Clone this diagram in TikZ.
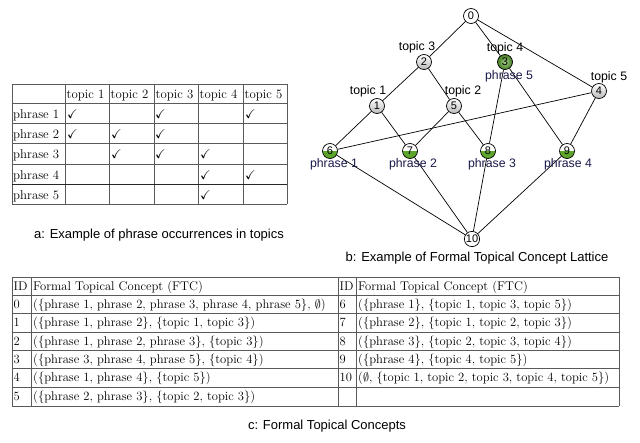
\documentclass[tikz,border=0pt]{standalone}
\usepackage{fontspec}
\usepackage{amssymb}
\newfontfamily\labfont{Liberation Sans}
\definecolor{lgreen}{RGB}{92,166,44}
\definecolor{phr}{RGB}{25,25,75}
\definecolor{tl}{RGB}{90,90,90}
\tikzset{
  tline/.style={draw=tl, line width=0.8pt},
  cella/.style={anchor=base west, inner sep=0pt, font=\fontsize{12.8}{15}\selectfont},
  cellc/.style={anchor=base west, inner sep=0pt, font=\fontsize{12.6}{15}\selectfont},
  chk/.style={anchor=base west, inner sep=0pt, font=\fontsize{12.8}{15}\selectfont},
  lnode/.style={circle, draw=black, line width=0.7pt, minimum size=15pt, inner sep=0.3pt, font=\labfont\fontsize{11}{12}\selectfont},
  wn/.style={lnode, fill=white},
  gn/.style={lnode, top color=white, bottom color=gray!55},
  grn/.style={lnode, shading=radial, inner color=lgreen!55!white, outer color=lgreen!75!black},
  hn/.style={lnode, fill=white, path picture={\fill[lgreen] (path picture bounding box.west) rectangle (path picture bounding box.south east);}},
  tlab/.style={inner sep=0pt, font=\labfont\fontsize{12.3}{14}\selectfont, text=black},
  plab/.style={inner sep=0pt, font=\labfont\fontsize{12.3}{14}\selectfont, text=phr},
  captxt/.style={inner sep=0pt, font=\labfont\fontsize{13}{15}\selectfont, text=black},
  lnk/.style={draw=black, line width=0.7pt}
}
\begin{document}
\begin{tikzpicture}[x=1pt,y=-1pt]
\useasboundingbox (0,0) rectangle (640,442);
\fill[white] (0,0) rectangle (640,442);

% ---------- Table a ----------
\foreach \y in {84,103,123,143,164,184,204} \draw[tline] (12,\y) -- (287,\y);
\foreach \x in {12,65,109,154,198,243,287} \draw[tline] (\x,84) -- (\x,204);
\draw[draw=black!85, line width=1pt] (12,184) -- (287,184);
\foreach \i/\x in {1/65,2/109,3/154,4/198,5/243}
  \node[cella] (ah\i) at (\x+1.5,98.5) {topic \i};
\foreach \j/\y in {1/118,2/138,3/158.5,4/179,5/199}
  \node[cella] (ar\j) at (13,\y) {phrase \j};
\foreach \n/\x/\y in {a/67/118,b/155/118,c/245/118,
                      d/67/138,e/111/138,f/155/138,
                      g/111/158.5,h/155/158.5,i/200/158.5,
                      j/200/179,k/245/179,
                      l/200/199}
  \node[chk] (ck\n) at (\x,\y) {$\checkmark$};
\node[captxt] (capa) at (159,235) {a: Example of phrase occurrences in topics};

% ---------- Lattice b ----------
\node[wn]  (n0)  at (471,16)  {0};
\node[gn]  (n2)  at (424,62)  {2};
\node[grn] (n3)  at (505,62)  {3};
\node[gn]  (n4)  at (599,91)  {4};
\node[gn]  (n1)  at (377,106) {1};
\node[gn]  (n5)  at (454,106) {5};
\node[hn]  (n6)  at (330,151) {6};
\node[hn]  (n7)  at (410,151) {7};
\node[hn]  (n8)  at (488,151) {8};
\node[hn]  (n9)  at (567,151) {9};
\node[wn]  (n10) at (472,239) {10};

\foreach \a/\b in {0/2,0/3,0/4,2/1,2/5,3/8,3/9,4/6,4/9,1/6,1/7,5/7,5/8,6/10,7/10,8/10,9/10}
  \draw[lnk] (n\a) -- (n\b);

\node[tlab] (lt3) at (417,47) {topic 3};
\node[tlab] (lt4) at (505,48) {topic 4};
\node[plab] (lp5) at (509,76) {phrase 5};
\node[tlab] (lt5) at (609,77) {topic 5};
\node[tlab] (lt1) at (368,91) {topic 1};
\node[tlab] (lt2) at (463,91) {topic 2};
\node[plab] (lp1) at (334,164) {phrase 1};
\node[plab] (lp2) at (413,164) {phrase 2};
\node[plab] (lp3) at (492,164) {phrase 3};
\node[plab] (lp4) at (568,164) {phrase 4};
\node[captxt] (capb) at (477,258) {b: Example of Formal Topical Concept Lattice};

% ---------- Table c ----------
\foreach \y in {277,295,313,332,350,368,387,406} \draw[tline] (12,\y) -- (619,\y);
\foreach \x in {12,31,338,356,619} \draw[tline] (\x,277) -- (\x,406);
\foreach \n/\y/\ida/\ta/\idb/\tb in {
  0/290/ID/{Formal Topical Concept (FTC)}/ID/{Formal Topical Concept (FTC)},
  1/308/0/{(\{phrase 1, phrase 2, phrase 3, phrase 4, phrase 5\}, $\emptyset$)}/6/{(\{phrase 1\}, \{topic 1, topic 3, topic 5\})},
  2/326.5/1/{(\{phrase 1, phrase 2\}, \{topic 1, topic 3\})}/7/{(\{phrase 2\}, \{topic 1, topic 2, topic 3\})},
  3/345/2/{(\{phrase 1, phrase 2, phrase 3\}, \{topic 3\})}/8/{(\{phrase 3\}, \{topic 2, topic 3, topic 4\})},
  4/363/3/{(\{phrase 3, phrase 4, phrase 5\}, \{topic 4\})}/9/{(\{phrase 4\}, \{topic 4, topic 5\})},
  5/381.5/4/{(\{phrase 1, phrase 4\}, \{topic 5\})}/10/{($\emptyset$, \{topic 1, topic 2, topic 3, topic 4, topic 5\})},
  6/400.5/5/{(\{phrase 2, phrase 3\}, \{topic 2, topic 3\})}//{}}
{
  \node[cellc] (ci\n) at (13.5,\y) {\ida};
  \node[cellc] (ct\n) at (33,\y) {\ta};
  \node[cellc] (di\n) at (339.5,\y) {\idb};
  \node[cellc] (dt\n) at (358,\y) {\tb};
}
\node[captxt] (capc) at (327,426) {c: Formal Topical Concepts};
\end{tikzpicture}
\end{document}
